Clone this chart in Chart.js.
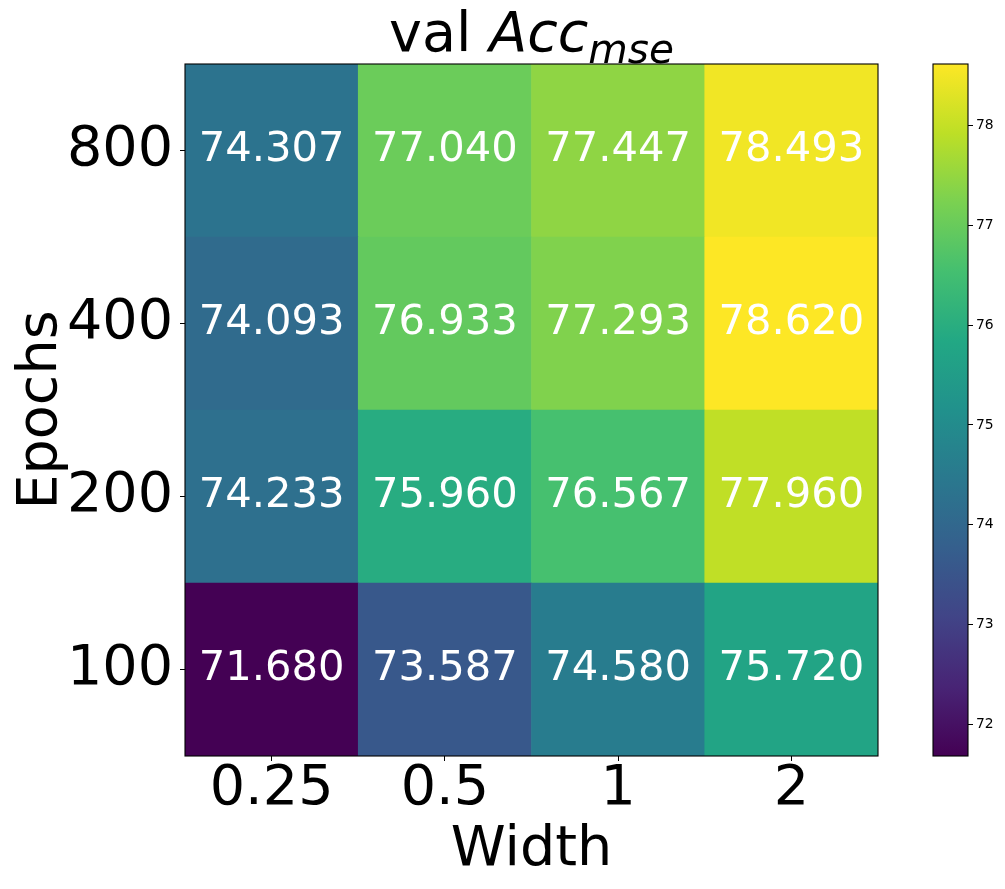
<!DOCTYPE html>
<html>
<head>
<meta charset="utf-8">
<script src="https://cdn.jsdelivr.net/npm/chart.js@4"></script>
<style>
  body { margin: 0; background: #fff; }
  #wrap { position: relative; width: 1005px; height: 889px; background: #fff; font-family: "DejaVu Sans", sans-serif; }
  #heat { position: absolute; left: 0; top: 0; }
  #cbar { position: absolute; left: 900px; top: 0; }
  #title { position: absolute; left: 185px; width: 693px; top: 4px; text-align: center;
           font-size: 55.6px; line-height: 56px; color: #000; white-space: nowrap; }
  #title .sub { font-size: 0.73em; vertical-align: -0.3em; line-height: 0; }
</style>
</head>
<body>
<div id="wrap">
  <canvas id="heat" width="1005" height="889"></canvas>
  <canvas id="cbar" width="105" height="889"></canvas>
  <div id="title">val <i>Acc<span class="sub">mse</span></i></div>
</div>
<script>
/* Heatmap data: rows are epochs (bottom to top), columns are widths */
var widths = ['0.25', '0.5', '1', '2'];
var epochs = ['100', '200', '400', '800'];
var acc100 = [71.680, 73.587, 74.580, 75.720];
var acc200 = [74.233, 75.960, 76.567, 77.960];
var acc400 = [74.093, 76.933, 77.293, 78.620];
var acc800 = [74.307, 77.040, 77.447, 78.493];
var colorTicks = [72, 73, 74, 75, 76, 77, 78];

var rows = [acc100, acc200, acc400, acc800];
var allVals = [].concat.apply([], rows);
var vmin = Math.min.apply(null, allVals);
var vmax = Math.max.apply(null, allVals);

/* viridis colormap stops */
var viridis = ['#440154', '#482475', '#414487', '#355f8d', '#2a788e', '#21918c',
               '#22a884', '#44bf70', '#7ad151', '#bddf26', '#fde725'];

function hexRgb(h) {
  return [parseInt(h.substr(1, 2), 16), parseInt(h.substr(3, 2), 16), parseInt(h.substr(5, 2), 16)];
}
function cmap(v) {
  var t = (v - vmin) / (vmax - vmin);
  t = Math.max(0, Math.min(1, t));
  var p = t * (viridis.length - 1);
  var i = Math.min(Math.floor(p), viridis.length - 2);
  var f = p - i;
  var a = hexRgb(viridis[i]), b = hexRgb(viridis[i + 1]);
  var c = a.map(function (x, k) { return Math.round(x + (b[k] - x) * f); });
  return 'rgb(' + c.join(',') + ')';
}

var framePlugin = {
  id: 'frame',
  afterDraw: function (chart) {
    var a = chart.chartArea, c = chart.ctx;
    c.save();
    c.strokeStyle = '#000';
    c.lineWidth = 1.1;
    c.strokeRect(a.left, a.top, a.right - a.left, a.bottom - a.top);
    c.restore();
  }
};

var cellLabels = {
  id: 'cellLabels',
  afterDatasetsDraw: function (chart) {
    var c = chart.ctx;
    c.save();
    c.fillStyle = '#fff';
    c.font = '41.7px "DejaVu Sans"';
    c.textAlign = 'center';
    c.textBaseline = 'middle';
    chart.data.datasets.forEach(function (ds, i) {
      chart.getDatasetMeta(i).data.forEach(function (bar, j) {
        var p = bar.getProps(['x', 'y', 'base'], true);
        c.fillText(rows[i][j].toFixed(3), p.x, (p.y + p.base) / 2);
      });
    });
    c.restore();
  }
};

var bigFont = { family: 'DejaVu Sans', size: 55.6, lineHeight: 1 };

new Chart(document.getElementById('heat'), {
  type: 'bar',
  data: {
    labels: widths,
    datasets: rows.map(function (r, i) {
      return {
        label: epochs[i],
        data: r.map(function () { return [i - 0.5, i + 0.5]; }),
        backgroundColor: r.map(cmap),
        borderWidth: 0,
        barPercentage: 1,
        categoryPercentage: 1,
        grouped: false
      };
    })
  },
  options: {
    responsive: false,
    animation: false,
    layout: { padding: { left: 0, top: 64, right: 127, bottom: 0 } },
    plugins: { legend: { display: false }, tooltip: { enabled: false } },
    scales: {
      x: {
        type: 'category',
        grid: { offset: false, drawOnChartArea: false, drawTicks: true, tickLength: 5, color: '#000' },
        border: { display: false },
        ticks: { color: '#000', font: bigFont, padding: 1, maxRotation: 0 },
        title: { display: true, text: 'Width', color: '#000', font: bigFont, padding: { top: 0, bottom: 11 } },
        afterFit: function (s) { s.height = 133; }
      },
      y: {
        type: 'linear',
        min: -0.5,
        max: epochs.length - 0.5,
        afterBuildTicks: function (s) {
          s.ticks = epochs.map(function (e, i) { return { value: i }; });
        },
        grid: { drawOnChartArea: false, drawTicks: true, tickLength: 5, color: '#000' },
        border: { display: false },
        ticks: {
          color: '#000', font: bigFont, padding: 7,
          callback: function (v) { return epochs[v]; }
        },
        title: { display: true, text: 'Epochs', color: '#000', font: bigFont, padding: { top: 14, bottom: 0 } },
        afterFit: function (s) { s.width = 185; }
      }
    }
  },
  plugins: [cellLabels, framePlugin]
});

/* colorbar */
new Chart(document.getElementById('cbar'), {
  type: 'bar',
  data: {
    labels: [''],
    datasets: [{
      data: [[vmin, vmax]],
      borderWidth: 0,
      barPercentage: 1,
      categoryPercentage: 1,
      backgroundColor: function (ctx) {
        var area = ctx.chart.chartArea;
        if (!area) return null;
        var g = ctx.chart.ctx.createLinearGradient(0, area.bottom, 0, area.top);
        viridis.forEach(function (col, k) { g.addColorStop(k / (viridis.length - 1), col); });
        return g;
      }
    }]
  },
  options: {
    responsive: false,
    animation: false,
    layout: { padding: { left: 33, top: 64, right: 0, bottom: 133 } },
    plugins: { legend: { display: false }, tooltip: { enabled: false } },
    scales: {
      x: { display: false },
      y: {
        position: 'right',
        min: vmin,
        max: vmax,
        afterBuildTicks: function (s) {
          s.ticks = colorTicks.map(function (v) { return { value: v }; });
        },
        grid: { drawOnChartArea: false, drawTicks: true, tickLength: 5, color: '#000' },
        border: { display: false },
        ticks: { color: '#000', font: { family: 'DejaVu Sans', size: 13.9 }, padding: 3 },
        afterFit: function (s) { s.width = 37; }
      }
    }
  },
  plugins: [framePlugin]
});
</script>
</body>
</html>
